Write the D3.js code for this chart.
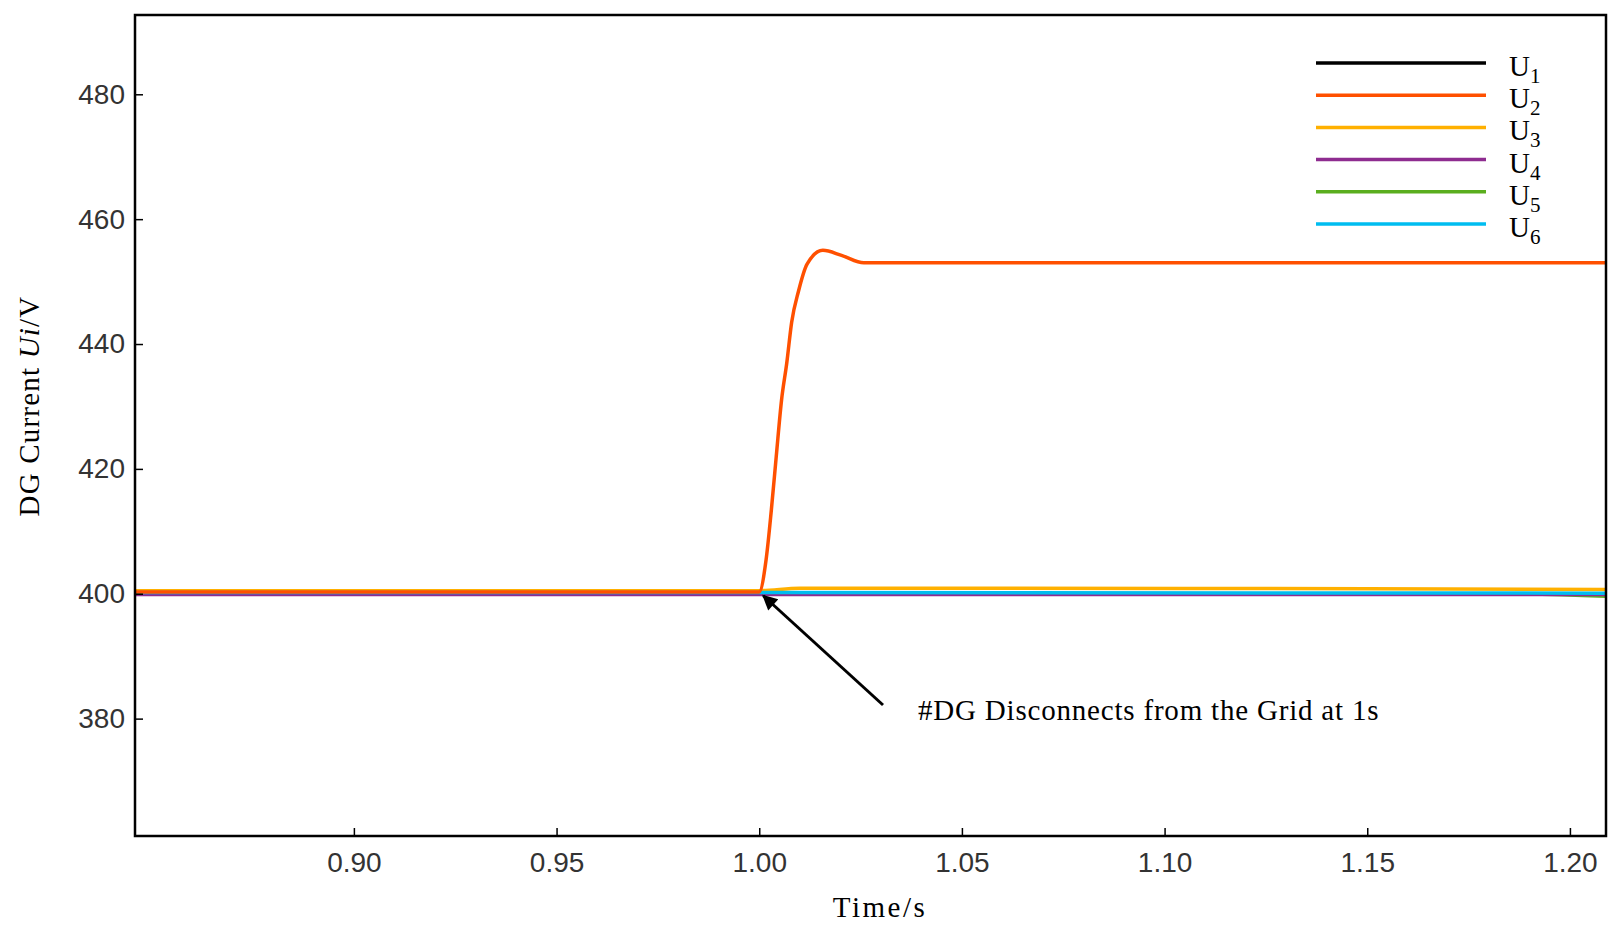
<!DOCTYPE html>
<html>
<head>
<meta charset="utf-8">
<script src="https://cdn.jsdelivr.net/npm/d3@7"></script>
<style>
  body { margin: 0; background: #fff; }
  .tick text { font-family: "Liberation Sans", Arial, sans-serif; font-size: 28px; fill: #333; }
</style>
</head>
<body>
<svg id="chart" width="1612" height="932"></svg>
<script>
// series data (time in s, voltage in V)
const u2Time = [0.846, 1.000, 1.0017, 1.0030, 1.0042, 1.0055, 1.0068, 1.0080, 1.0097, 1.0118, 1.0157, 1.0203, 1.0258, 1.209];
const u2Vals = [400.3, 400.3, 405.5, 413.5, 422, 431, 437, 443.5, 448.5, 452.8, 455, 454.2, 453, 453];
const u3Time = [0.846, 1.000, 1.010, 1.150, 1.209];
const u3Vals = [400.5, 400.5, 400.9, 400.8, 400.7];
const u4Time = [0.846, 1.209];
const u4Vals = [399.9, 399.9];
const u5Time = [0.846, 1.000, 1.180, 1.209];
const u5Vals = [400.0, 400.0, 400.0, 399.6];
const u6Time = [0.846, 1.000, 1.209];
const u6Vals = [400.2, 400.2, 400.1];
const u1Time = [0.846, 1.209];
const u1Vals = [400.0, 400.0];

const seriesNames = ['1', '2', '3', '4', '5', '6'];
const seriesColors = ['#000000', '#ff5000', '#ffb000', '#8e2c90', '#5aae1e', '#00bdf0'];
const xTicks = [0.90, 0.95, 1.00, 1.05, 1.10, 1.15, 1.20];
const yTicks = [380, 400, 420, 440, 460, 480];

const series = [
  [u1Time, u1Vals], [u2Time, u2Vals], [u3Time, u3Vals],
  [u4Time, u4Vals], [u5Time, u5Vals], [u6Time, u6Vals]
];
// draw order so the near-400 lines overlap like the original
const drawOrder = [0, 4, 3, 2, 5, 1];

const margin = { left: 135, top: 15, right: 6, bottom: 96 };
const W = 1612, H = 932;
const serif = '"Liberation Serif", "Times New Roman", serif';
const svg = d3.select('#chart');

const x = d3.scaleLinear().domain([0.846, 1.2089]).range([margin.left, W - margin.right]);
const y = d3.scaleLinear().domain([361.2, 492.7]).range([H - margin.bottom, margin.top]);

const line = d3.line().x(d => x(d[0])).y(d => y(d[1])).curve(d3.curveMonotoneX);
svg.append('clipPath').attr('id', 'clip').append('rect')
  .attr('x', margin.left).attr('y', margin.top)
  .attr('width', W - margin.right - margin.left).attr('height', H - margin.bottom - margin.top);

const g = svg.append('g').attr('clip-path', 'url(#clip)');
drawOrder.forEach(i => {
  const [t, v] = series[i];
  g.append('path')
    .datum(t.map((tt, k) => [tt, v[k]]))
    .attr('fill', 'none')
    .attr('stroke', seriesColors[i])
    .attr('stroke-width', 3.5)
    .attr('d', line);
});

// axes
svg.append('g').attr('transform', `translate(0,${H - margin.bottom})`)
  .call(d3.axisBottom(x).tickValues(xTicks).tickFormat(d3.format('.2f')).tickSize(-8).tickPadding(16))
  .call(a => a.select('.domain').remove())
  .call(a => a.selectAll('.tick line').attr('stroke', '#000').attr('stroke-width', 1.5));
svg.append('g').attr('transform', `translate(${margin.left},0)`)
  .call(d3.axisLeft(y).tickValues(yTicks).tickSize(-8).tickPadding(10))
  .call(a => a.select('.domain').remove())
  .call(a => a.selectAll('.tick line').attr('stroke', '#000').attr('stroke-width', 1.5));

// frame
svg.append('rect')
  .attr('x', margin.left).attr('y', margin.top)
  .attr('width', W - margin.right - margin.left).attr('height', H - margin.bottom - margin.top)
  .attr('fill', 'none').attr('stroke', '#000').attr('stroke-width', 2.5);

// legend
const leg = svg.append('g');
seriesNames.forEach((n, i) => {
  const ly = 63 + i * 32.2;
  leg.append('line').attr('x1', 1316).attr('x2', 1486).attr('y1', ly).attr('y2', ly)
    .attr('stroke', seriesColors[i]).attr('stroke-width', 3.5);
  const tx = leg.append('text').attr('x', 1509).attr('y', ly + 13)
    .attr('font-family', serif).attr('font-size', 29).attr('fill', '#000');
  tx.append('tspan').text('U');
  tx.append('tspan').attr('font-size', 21).attr('dy', 7).text(n);
});

// annotation arrow
const defs = svg.append('defs');
defs.append('marker').attr('id', 'arrow').attr('viewBox', '0 0 10 10').attr('refX', 9).attr('refY', 5)
  .attr('markerWidth', 7).attr('markerHeight', 5).attr('orient', 'auto-start-reverse')
  .append('path').attr('d', 'M0,0 L10,5 L0,10 z').attr('fill', '#000');
svg.append('line')
  .attr('x1', 883).attr('y1', 705).attr('x2', x(1.001)).attr('y2', y(400) + 2)
  .attr('stroke', '#000').attr('stroke-width', 3).attr('marker-end', 'url(#arrow)');
svg.append('text').attr('x', 918).attr('y', 720)
  .attr('font-family', serif).attr('font-size', 29)
  .attr('letter-spacing', 0.8).text('#DG Disconnects from the Grid at 1s');

// axis titles
svg.append('text').attr('x', 880).attr('y', 917).attr('text-anchor', 'middle')
  .attr('font-family', serif).attr('font-size', 29)
  .attr('letter-spacing', 2.5).text('Time/s');
const yl = svg.append('text').attr('transform', 'translate(39,406) rotate(-90)').attr('text-anchor', 'middle')
  .attr('font-family', serif).attr('font-size', 29).attr('letter-spacing', 1.2);
yl.append('tspan').text('DG Current  ');
yl.append('tspan').attr('font-style', 'italic').text('Ui');
yl.append('tspan').text('/V');
</script>
</body>
</html>
